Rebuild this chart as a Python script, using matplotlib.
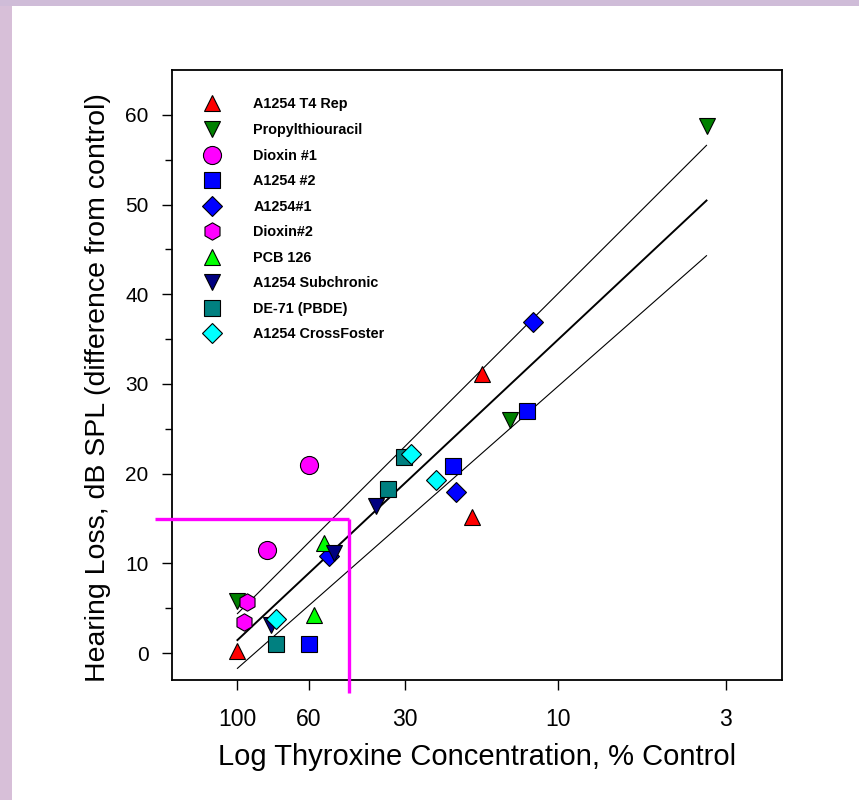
import matplotlib
matplotlib.use("Agg")
import matplotlib.pyplot as plt
from matplotlib.patches import Rectangle
from matplotlib.ticker import FixedLocator, NullLocator, MultipleLocator

plt.rcParams['font.family'] = ['Liberation Sans', 'DejaVu Sans']

# series: x = thyroxine (% control), y = hearing loss (dB)
labels = ['A1254 T4 Rep', 'Propylthiouracil', 'Dioxin #1', 'A1254 #2', 'A1254#1',
          'Dioxin#2', 'PCB 126', 'A1254 Subchronic', 'DE-71 (PBDE)', 'A1254 CrossFoster']
markers = ['^', 'v', 'o', 's', 'D', 'h', '^', 'v', 's', 'D']
colors = ['#ff0000', '#008000', '#ff00ff', '#0000ff', '#0000ff',
          '#ff00ff', '#00ff00', '#000080', '#008080', '#00ffff']
x_vals = [[100, 17.3, 18.6],
          [100, 14.1, 3.44],
          [81, 60],
          [60, 21.3, 12.5],
          [51.8, 20.8, 12.0],
          [93.4, 95.4],
          [57.6, 53.8],
          [78.3, 49.9, 37.0],
          [76.0, 33.8, 30.3],
          [76.0, 28.8, 24.0]]
y_vals = [[0.2, 31.1, 15.2],
          [5.8, 26.0, 58.8],
          [11.5, 21.0],
          [1.0, 20.9, 27.0],
          [10.8, 18.0, 36.9],
          [5.7, 3.5],
          [4.3, 12.3],
          [3.1, 11.2, 16.4],
          [1.0, 18.3, 21.9],
          [3.8, 22.2, 19.3]]
msizes = [12, 12, 13, 11.5, 10, 12.5, 12, 12, 11.5, 10]

# regression line and bands (end points)
fit_x = [100, 3.44]
fit_y = [1.45, 50.45]
upper_y = [4.4, 56.6]
lower_y = [-1.7, 44.3]

# 15 dB / 45 % threshold guide
thr_x = 45
thr_y = 15

x_ticks = [100, 60, 30, 10, 3]

fig = plt.figure(figsize=(8.59, 8.0), dpi=100)
fig.patch.set_facecolor('white')
# lilac border strips on the left and top
fig.patches.append(Rectangle((0, 0), 12 / 859, 1, transform=fig.transFigure,
                             facecolor='#d7bfd8', edgecolor='none', zorder=0))
fig.patches.append(Rectangle((0, 1 - 6 / 800), 1, 6 / 800, transform=fig.transFigure,
                             facecolor='#cfbcd8', edgecolor='none', zorder=0))

ax = fig.add_axes([172 / 859, 120 / 800, 610 / 859, 610 / 800])
ax.set_xscale('log')
ax.set_xlim(160, 2)
ax.set_ylim(-3, 65)

ax.plot(fit_x, fit_y, color='black', lw=1.4, zorder=2)
ax.plot(fit_x, upper_y, color='black', lw=0.8, zorder=2)
ax.plot(fit_x, lower_y, color='black', lw=0.8, zorder=2)

for lab, m, c, xs, ys, ms in zip(labels, markers, colors, x_vals, y_vals, msizes):
    ax.plot(xs, ys, linestyle='none', marker=m, markersize=ms, markerfacecolor=c,
            markeredgecolor='black', markeredgewidth=0.8, label=lab, zorder=3)

# magenta guide lines, running past the frame
ax.plot([160 * 1.13, thr_x], [thr_y, thr_y], color='#ff00ff', lw=2.4,
        clip_on=False, zorder=4, solid_capstyle='butt')
ax.plot([thr_x, thr_x], [thr_y, -4.5], color='#ff00ff', lw=2.4,
        clip_on=False, zorder=4, solid_capstyle='butt')

ax.xaxis.set_major_locator(FixedLocator(x_ticks))
ax.xaxis.set_minor_locator(NullLocator())
ax.set_xticklabels([str(t) for t in x_ticks])
ax.yaxis.set_major_locator(MultipleLocator(10))
ax.yaxis.set_minor_locator(FixedLocator([5, 15, 25, 35, 45, 55]))
ax.set_yticks([0, 10, 20, 30, 40, 50, 60])

ax.tick_params(axis='both', which='major', direction='out', length=7, width=1)
ax.tick_params(axis='y', which='minor', direction='out', length=5, width=1)
ax.tick_params(axis='x', which='major', pad=13, labelsize=16.5)
ax.tick_params(axis='y', which='major', pad=10, labelsize=15)
for sp in ax.spines.values():
    sp.set_linewidth(1.3)

ax.set_xlabel('Log Thyroxine Concentration, % Control', fontsize=21)
ax.set_ylabel('Hearing Loss, dB SPL (difference from control)', fontsize=20.5)
ax.xaxis.set_label_coords(0.5, -0.103)
ax.yaxis.set_label_coords(-0.100, 0.48)

ax.legend(loc='upper left', bbox_to_anchor=(0.042, 0.955), frameon=False,
          prop={'size': 10.4, 'weight': 'bold'}, labelspacing=0.8,
          handletextpad=1.85, handlelength=2.0, borderaxespad=0, borderpad=0,
          numpoints=1)

fig.savefig('out.png', dpi=100)
